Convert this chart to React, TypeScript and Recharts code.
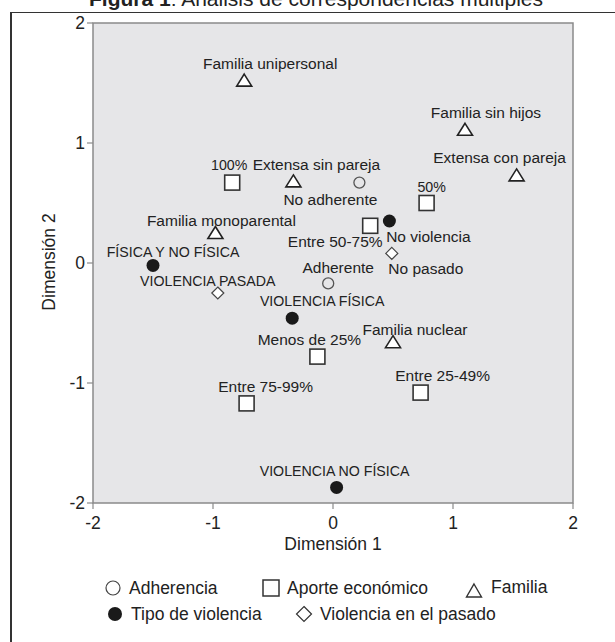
import React from 'react';
import { ScatterChart, Scatter, XAxis, YAxis, ReferenceArea } from 'recharts';

// ---- Data ----
const adherencia = [
  { name: 'No adherente', x: 0.22, y: 0.67 },
  { name: 'Adherente', x: -0.04, y: -0.17 },
];

const aporteEconomico = [
  { name: '100%', x: -0.84, y: 0.67 },
  { name: '50%', x: 0.78, y: 0.5 },
  { name: 'Entre 50-75%', x: 0.31, y: 0.31 },
  { name: 'Menos de 25%', x: -0.13, y: -0.78 },
  { name: 'Entre 25-49%', x: 0.73, y: -1.08 },
  { name: 'Entre 75-99%', x: -0.72, y: -1.17 },
];

const familia = [
  { name: 'Familia unipersonal', x: -0.74, y: 1.52 },
  { name: 'Familia sin hijos', x: 1.1, y: 1.11 },
  { name: 'Extensa con pareja', x: 1.53, y: 0.73 },
  { name: 'Extensa sin pareja', x: -0.33, y: 0.68 },
  { name: 'Familia monoparental', x: -0.98, y: 0.25 },
  { name: 'Familia nuclear', x: 0.5, y: -0.66 },
];

const tipoViolencia = [
  { name: 'No violencia', x: 0.47, y: 0.35 },
  { name: 'FÍSICA Y NO FÍSICA', x: -1.5, y: -0.02 },
  { name: 'VIOLENCIA FÍSICA', x: -0.34, y: -0.46 },
  { name: 'VIOLENCIA NO FÍSICA', x: 0.03, y: -1.87 },
];

const violenciaPasado = [
  { name: 'No pasado', x: 0.49, y: 0.08 },
  { name: 'VIOLENCIA PASADA', x: -0.96, y: -0.25 },
];

const axisTicks = [-2, -1, 0, 1, 2];

const seriesNames = {
  adherencia: 'Adherencia',
  aporte: 'Aporte económico',
  familia: 'Familia',
  tipo: 'Tipo de violencia',
  pasado: 'Violencia en el pasado',
};

// ---- Label placement (pixel offsets of label centre from marker) ----
const labelOffsets: Record<string, [number, number]> = {
  'Familia unipersonal': [26, -17],
  '100%': [-3, -18],
  'Extensa sin pareja': [23, -17],
  'No adherente': [-29, 17],
  'Familia monoparental': [6, -13],
  'FÍSICA Y NO FÍSICA': [20, -13],
  'Entre 50-75%': [-35, 16],
  'Adherente': [10, -16],
  'No violencia': [39, 15],
  'No pasado': [34, 15],
  '50%': [5, -16],
  'Familia sin hijos': [21, -17],
  'Extensa con pareja': [-17, -18],
  'VIOLENCIA PASADA': [-10, -12],
  'VIOLENCIA FÍSICA': [30, -17],
  'Menos de 25%': [-8, -17],
  'Entre 75-99%': [19, -17],
  'VIOLENCIA NO FÍSICA': [-2, -16],
  'Familia nuclear': [22, -13],
  'Entre 25-49%': [22, -17],
};

const FONT = '"Liberation Sans", Arial, Helvetica, sans-serif';
const TEXT = '#222';

const PointLabel = ({ cx, cy, name }: { cx: number; cy: number; name: string }) => {
  const off = labelOffsets[name] || [0, -16];
  const isCaps = !/[a-z]/.test(name);
  return (
    <text
      x={cx + off[0]}
      y={cy + off[1]}
      textAnchor="middle"
      dominantBaseline="central"
      fontSize={isCaps ? 14.2 : 15.5}
      fill={TEXT}
      fontFamily={FONT}
    >
      {name}
    </text>
  );
};

const OpenCircle = (p: any) => (
  <g>
    <circle cx={p.cx} cy={p.cy} r={5.5} fill="none" stroke="#555" strokeWidth={1.3} />
    <PointLabel cx={p.cx} cy={p.cy} name={p.payload.name} />
  </g>
);

const OpenSquare = (p: any) => (
  <g>
    <rect x={p.cx - 7.5} y={p.cy - 7.5} width={15} height={15} fill="#fff" stroke="#333" strokeWidth={1.6} />
    <PointLabel cx={p.cx} cy={p.cy} name={p.payload.name} />
  </g>
);

const OpenTriangle = (p: any) => (
  <g>
    <polygon
      points={`${p.cx},${p.cy - 6.5} ${p.cx + 7.5},${p.cy + 5.5} ${p.cx - 7.5},${p.cy + 5.5}`}
      fill="#fff"
      stroke="#222"
      strokeWidth={1.6}
      strokeLinejoin="miter"
    />
    <PointLabel cx={p.cx} cy={p.cy} name={p.payload.name} />
  </g>
);

const FilledCircle = (p: any) => (
  <g>
    <circle cx={p.cx} cy={p.cy} r={6.5} fill="#1a1a1a" />
    <PointLabel cx={p.cx} cy={p.cy} name={p.payload.name} />
  </g>
);

const OpenDiamond = (p: any) => (
  <g>
    <polygon
      points={`${p.cx},${p.cy - 6} ${p.cx + 6},${p.cy} ${p.cx},${p.cy + 6} ${p.cx - 6},${p.cy}`}
      fill="#fff"
      stroke="#444"
      strokeWidth={1.2}
    />
    <PointLabel cx={p.cx} cy={p.cy} name={p.payload.name} />
  </g>
);

const LegendItem = ({ kind, label, left, top }: { kind: string; label: string; left: number; top: number }) => {
  let marker: React.ReactNode = null;
  if (kind === 'circle') marker = <circle cx={9} cy={9} r={7} fill="none" stroke="#444" strokeWidth={1.2} />;
  if (kind === 'square') marker = <rect x={1} y={1} width={16} height={16} fill="#fff" stroke="#333" strokeWidth={1.5} />;
  if (kind === 'triangle') marker = <polygon points="9,3 16.5,16 1.5,16" fill="#fff" stroke="#333" strokeWidth={1.4} />;
  if (kind === 'filled') marker = <circle cx={9} cy={9} r={7} fill="#1a1a1a" />;
  if (kind === 'diamond') marker = <polygon points="9,1.5 16.5,9 9,16.5 1.5,9" fill="#fff" stroke="#333" strokeWidth={1.2} />;
  return (
    <div style={{ position: 'absolute', left, top, display: 'flex', alignItems: 'center', height: 20 }}>
      <svg width={18} height={18} style={{ display: 'block' }}>{marker}</svg>
      <span style={{ marginLeft: kind === 'triangle' ? 8 : 7, fontSize: 17.5, color: TEXT, lineHeight: '20px', position: 'relative', top: kind === 'triangle' ? -3 : 0 }}>
        {label}
      </span>
    </div>
  );
};

export default function App() {
  return (
    <div
      style={{
        position: 'absolute',
        left: 0,
        top: 0,
        width: 615,
        height: 642,
        overflow: 'hidden',
        background: '#fff',
        fontFamily: FONT,
        color: TEXT,
      }}
    >
      {/* figure frame */}
      <div
        style={{
          position: 'absolute',
          left: 10,
          top: 12,
          width: 620,
          height: 640,
          borderLeft: '2px solid #333',
          borderTop: '1.5px solid #333',
          boxSizing: 'border-box',
        }}
      />
      {/* title (partly cut at the top) */}
      <div
        style={{
          position: 'absolute',
          left: 0,
          width: 632,
          top: -12,
          textAlign: 'center',
          fontSize: 21,
          lineHeight: '21px',
          whiteSpace: 'nowrap',
        }}
      >
        <b>Figura 1</b>: Análisis de correspondencias múltiples
      </div>

      <div style={{ position: 'absolute', left: 0, top: 0 }}>
        <ScatterChart width={615} height={560} margin={{ top: 23, right: 42, bottom: 17, left: 33 }}>
          <ReferenceArea
            x1={-2}
            x2={2}
            y1={-2}
            y2={2}
            fill="#e6e6e8"
            fillOpacity={1}
            stroke="#8a8a8a"
            strokeWidth={1.5}
          />
          <XAxis
            type="number"
            dataKey="x"
            domain={[-2, 2]}
            ticks={axisTicks}
            allowDataOverflow
            height={40}
            axisLine={false}
            tickSize={6}
            tickMargin={8}
            tickLine={{ stroke: '#8a8a8a', strokeWidth: 1.2 }}
            tick={{ fontSize: 17.5, fill: TEXT }}
          />
          <YAxis
            type="number"
            dataKey="y"
            domain={[-2, 2]}
            ticks={axisTicks}
            allowDataOverflow
            width={60}
            axisLine={false}
            tickSize={6}
            tickMargin={2}
            tickLine={{ stroke: '#8a8a8a', strokeWidth: 1.2 }}
            tick={{ fontSize: 17.5, fill: TEXT }}
          />
          <Scatter name={seriesNames.adherencia} data={adherencia} shape={OpenCircle} isAnimationActive={false} />
          <Scatter name={seriesNames.aporte} data={aporteEconomico} shape={OpenSquare} isAnimationActive={false} />
          <Scatter name={seriesNames.familia} data={familia} shape={OpenTriangle} isAnimationActive={false} />
          <Scatter name={seriesNames.tipo} data={tipoViolencia} shape={FilledCircle} isAnimationActive={false} />
          <Scatter name={seriesNames.pasado} data={violenciaPasado} shape={OpenDiamond} isAnimationActive={false} />
        </ScatterChart>
      </div>

      {/* axis titles */}
      <div
        style={{
          position: 'absolute',
          left: 233,
          width: 200,
          top: 534,
          textAlign: 'center',
          fontSize: 17.5,
          lineHeight: '20px',
        }}
      >
        Dimensión 1
      </div>
      <div
        style={{
          position: 'absolute',
          left: 49 - 100,
          top: 262 - 10,
          width: 200,
          textAlign: 'center',
          fontSize: 17.5,
          lineHeight: '20px',
          transform: 'rotate(-90deg)',
        }}
      >
        Dimensión 2
      </div>

      {/* legend */}
      <LegendItem kind="circle" label={seriesNames.adherencia} left={104} top={578} />
      <LegendItem kind="square" label={seriesNames.aporte} left={262} top={578} />
      <LegendItem kind="triangle" label={seriesNames.familia} left={465} top={580} />
      <LegendItem kind="filled" label={seriesNames.tipo} left={106} top={604} />
      <LegendItem kind="diamond" label={seriesNames.pasado} left={295} top={604} />
    </div>
  );
}
